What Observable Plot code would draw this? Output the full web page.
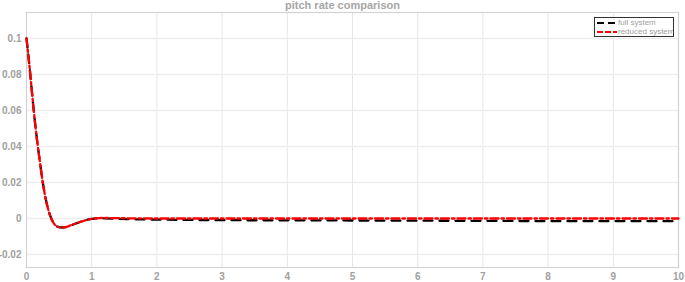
<!DOCTYPE html>
<html><head><meta charset="utf-8">
<script src="https://cdn.jsdelivr.net/npm/d3@7"></script>
<script src="https://cdn.jsdelivr.net/npm/@observablehq/plot@0.6"></script>
<style>
body{margin:0;background:#fff;font-family:"Liberation Sans",Arial,sans-serif;}
#wrap{position:relative;width:685px;height:282px;}
#title{position:absolute;left:0;width:685px;top:0px;line-height:11px;text-align:center;font-size:11px;font-weight:bold;color:#a6a6a6;}
#legend{position:absolute;left:594px;top:17px;width:78px;height:18px;border:1.5px solid #333;background:#fff;font-size:8px;color:#a0a0a0;line-height:9px;white-space:nowrap;overflow:hidden;}
#legend div{display:flex;align-items:center;height:9px;}
#legend svg{margin-left:2px;margin-right:1px;flex:none;}
</style></head>
<body>
<div id="wrap"><div id="title">pitch rate comparison</div></div>
<script>
const time = [0, 0.05, 0.1, 0.15, 0.2, 0.25, 0.3, 0.35, 0.4, 0.45, 0.5, 0.55, 0.6, 0.65, 0.7, 0.8, 0.9, 1.0, 1.1, 1.2, 1.4, 1.6, 2, 3, 4, 5, 6, 7, 8, 9, 10];
const reduced = [0.1, 0.083, 0.064, 0.047, 0.033, 0.02, 0.01, 0.003, -0.0015, -0.004, -0.0048, -0.005, -0.0048, -0.0042, -0.0035, -0.0022, -0.001, -0.0002, 0.0002, 0.0003, 0.0002, 0.0001, 0, 0, 0, 0, 0, 0, 0, 0, 0];
const full = [0.1, 0.083, 0.064, 0.047, 0.033, 0.02, 0.01, 0.003, -0.0015, -0.004, -0.0048, -0.005, -0.0048, -0.0042, -0.0035, -0.0022, -0.001, -0.0002, 0.0001, 0.0001, -0.0002, -0.0004, -0.0006, -0.0009, -0.001, -0.0011, -0.0012, -0.0013, -0.0014, -0.0014, -0.0015];
const xTicks = [0,1,2,3,4,5,6,7,8,9,10];
const yTicks = [-0.02, 0, 0.02, 0.04, 0.06, 0.08, 0.1];
const seriesNames = ["full system", "reduced system"];

const fullData = time.map((t,i)=>({t, v: full[i]}));
const redData = time.map((t,i)=>({t, v: reduced[i]}));
const fmt = d => String(+d.toFixed(2));

const chart = Plot.plot({
  width: 685, height: 282,
  marginTop: 12, marginBottom: 15, marginLeft: 26, marginRight: 7,
  style: {fontFamily: '"Liberation Sans", Arial, sans-serif', fontSize: "10px", fontWeight: "bold", color: "#a0a0a0", background: "#fff"},
  x: {domain: [0, 10], ticks: xTicks, label: null},
  y: {domain: [-0.0272, 0.1144], ticks: yTicks, label: null},
  marks: [
    Plot.gridX(xTicks, {stroke: "#e6e6e6", strokeOpacity: 1}),
    Plot.gridY(yTicks, {stroke: "#eeeeee", strokeOpacity: 1, strokeWidth: 1.5}),
    Plot.frame({stroke: "#d2d2d2", strokeWidth: 1.2}),
    Plot.axisX(xTicks, {tickSize: 0, tickPadding: 5, tickFormat: d => String(d), fill: "#a0a0a0"}),
    Plot.axisY(yTicks, {tickSize: 0, tickPadding: 5, tickFormat: fmt, fill: "#a0a0a0"}),
    Plot.line(fullData, {x: "t", y: "v", stroke: "#000", strokeWidth: 2.3, strokeDasharray: "9,7", curve: "monotone-x"}),
    Plot.line(redData, {x: "t", y: "v", stroke: "#ff0000", strokeWidth: 2.3, strokeDasharray: "8,3,2.5,3", curve: "monotone-x"})
  ]
});
const wrap = document.getElementById("wrap");
wrap.insertBefore(chart, wrap.firstChild);
const title = document.getElementById("title");
wrap.appendChild(title);
const leg = document.createElement("div");
leg.id = "legend";
const styles = [{c:"#000", d:"7,4"}, {c:"#ff0000", d:"6,2"}];
seriesNames.forEach((n,i)=>{
  const row = document.createElement("div");
  row.innerHTML = `<svg width="20" height="6"><line x1="0" y1="3" x2="20" y2="3" stroke="${styles[i].c}" stroke-width="2" stroke-dasharray="${styles[i].d}"/></svg><span>${n}</span>`;
  leg.appendChild(row);
});
wrap.appendChild(leg);
</script>
</body></html>
